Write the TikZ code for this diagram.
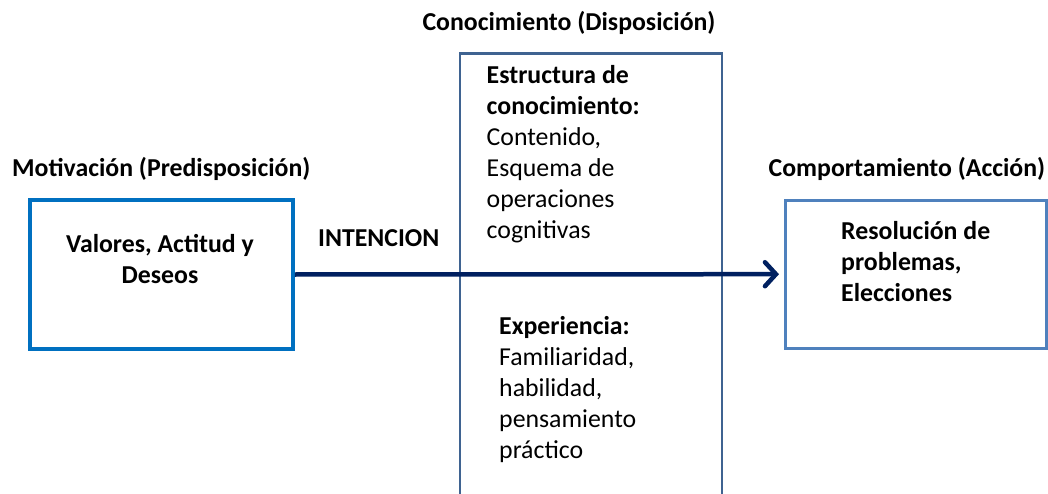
\documentclass[tikz,border=0pt]{standalone}
\usepackage{fontspec}
\setmainfont{Carlito}
\usetikzlibrary{arrows.meta}
\definecolor{leftblue}{HTML}{0070C0}
\definecolor{midblue}{HTML}{3F6391}
\definecolor{rightblue}{HTML}{4F81BD}
\definecolor{navy}{HTML}{002060}
\newcommand{\fsz}{\fontsize{25.8}{31}\selectfont}
\begin{document}
\begin{tikzpicture}[x=1pt,y=-1pt,
  txt/.style={inner sep=0pt, font=\fsz},
  lbl/.style={txt, anchor=base west},
  btxt/.style={txt, font=\bfseries\fsz},
  boxstyle/.style={draw, rectangle, inner sep=0pt}]
\useasboundingbox (0,0) rectangle (1048,494);
% boxes
\node[boxstyle, draw=leftblue, line width=3.5pt, minimum width=263pt, minimum height=149pt] (motiv) at (161.5,274.5) {};
\node[boxstyle, draw=midblue, line width=2.5pt, minimum width=262pt, minimum height=546pt] (conoc) at (591,326.5) {};
\node[boxstyle, draw=rightblue, line width=3pt, minimum width=261pt, minimum height=148pt] (accion) at (916,274.2) {};
% arrow
\draw[navy, line width=4.5pt, -{Straight Barb[length=11pt,width=24pt,line cap=round]}, shorten >=5pt] (motiv.east) -- (accion.west);
% titles
\node[btxt, anchor=base] (t2) at (569,31) {Conocimiento (Disposición)};
\node[btxt, anchor=base west] (t1) at (12,177) {Motivación (Predisposición)};
\node[btxt, anchor=base west] (t3) at (768.5,177) {Comportamiento (Acción)};
\node[btxt, anchor=base west] (inten) at (318,246) {INTENCION};
% box texts
\node[btxt, anchor=base] (valores) at (160,252)
  {\begin{tabular}[t]{@{}c@{}}Valores, Actitud y\\Deseos\end{tabular}};
\node[lbl] (estr) at (486.5,84)
  {\begin{tabular}[t]{@{}l@{}}\textbf{Estructura de}\\\textbf{conocimiento:}\\Contenido,\\Esquema de\\operaciones\\cognitivas\end{tabular}};
\node[lbl] (exper) at (499,334)
  {\begin{tabular}[t]{@{}l@{}}\textbf{Experiencia:}\\Familiaridad,\\habilidad,\\pensamiento\\práctico\end{tabular}};
\node[btxt, anchor=base west] (resol) at (841,239.3)
  {\begin{tabular}[t]{@{}l@{}}Resolución de\\problemas,\\Elecciones\end{tabular}};
\end{tikzpicture}
\end{document}
